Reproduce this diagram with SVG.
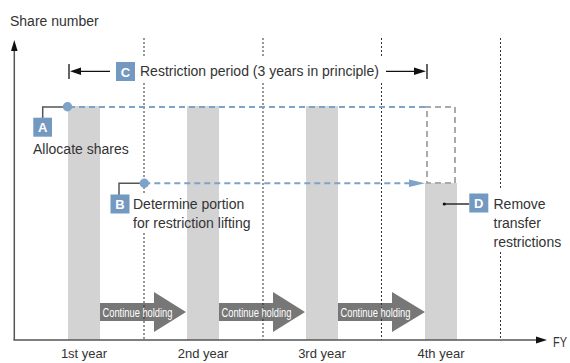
<svg xmlns="http://www.w3.org/2000/svg" width="570" height="363" viewBox="0 0 570 363">
<style>
.t{font-family:"Liberation Sans",Arial,sans-serif;font-size:14px;fill:#333}
.yr{font-family:"Liberation Sans",Arial,sans-serif;font-size:13px;fill:#333;text-anchor:middle}
.bx{fill:#7399c0}
.bl{font-family:"Liberation Sans",Arial,sans-serif;font-size:13px;font-weight:bold;fill:#fff;text-anchor:middle}
.bar{fill:#d3d3d3}
.vd{stroke:#333;stroke-width:1;stroke-dasharray:2 2;fill:none}
.bd{stroke:#7ea3c9;stroke-width:2;stroke-dasharray:6 4;fill:none}
.gd{stroke:#aaa;stroke-width:2;stroke-dasharray:6 4;fill:none}
.ln{stroke:#555;stroke-width:1.5;fill:none}
.blk{stroke:#111;stroke-width:1.3;fill:none}
.ch{fill:#777}
.ct{font-family:"Liberation Sans",Arial,sans-serif;font-size:12.5px;fill:#fff}
</style>
<rect width="570" height="363" fill="#fff"/>
<g id="bars">
<rect class="bar" x="68" y="106" width="32" height="234"/>
<rect class="bar" x="187" y="106" width="32" height="234"/>
<rect class="bar" x="306" y="106" width="32" height="234"/>
<rect class="bar" x="425" y="183" width="32" height="157"/>
</g>
<g id="continue-arrows">
<polygon class="ch" points="100,303 154,303 154,292 186,312 154,332 154,321 100,321"/>
<polygon class="ch" points="219,303 273,303 273,292 305,312 273,332 273,321 219,321"/>
<polygon class="ch" points="338,303 392,303 392,292 425,312 392,332 392,321 338,321"/>
</g>
<g id="gridlines">
<path class="vd" d="M144,38 V57 M144,83 V195 M144,233 V340"/>
<path class="vd" d="M263,38 V57 M263,83 V340"/>
<path class="vd" d="M381.5,38 V57 M381.5,83 V340"/>
<path class="vd" d="M500.5,38 V190 M500.5,252 V340"/>
</g>
<g id="continue-labels">
<text class="ct" x="102.5" y="316.5" textLength="70" lengthAdjust="spacingAndGlyphs">Continue holding</text>
<text class="ct" x="221.5" y="316.5" textLength="70" lengthAdjust="spacingAndGlyphs">Continue holding</text>
<text class="ct" x="340.5" y="316.5" textLength="70" lengthAdjust="spacingAndGlyphs">Continue holding</text>
</g>
<g id="axes">
<line class="ln" x1="14.3" y1="340" x2="14.3" y2="49"/>
<polygon points="14.3,40 11,51 17.6,51" fill="#111"/>
<line class="ln" x1="13.5" y1="340" x2="538" y2="340"/>
<polygon points="547,340 536,336.5 536,343.5" fill="#111"/>
<text class="t" x="10" y="26">Share number</text>
<text class="t" x="553" y="346.5" font-size="13" textLength="14" lengthAdjust="spacingAndGlyphs">FY</text>
<text class="yr" x="84" y="358">1st year</text>
<text class="yr" x="203" y="358">2nd year</text>
<text class="yr" x="322" y="358">3rd year</text>
<text class="yr" x="441" y="358">4th year</text>
</g>
<g id="connectors">
<path class="bd" d="M69,107 H425"/>
<path class="gd" d="M425,107 H455 V183 H427 V107"/>
<path class="bd" d="M144.3,183.3 H412"/>
<polygon points="425,183.3 409,179.5 409,187.1" fill="#7ea3c9"/>
<path class="ln" d="M67,107 H42.7 V118"/>
<path class="ln" d="M144,183.3 H119 V195"/>
<line class="blk" x1="444.3" y1="204" x2="469.3" y2="204"/>
<circle cx="444.3" cy="204" r="1.6" fill="#111"/>
</g>
<g id="C-period">
<line class="blk" x1="69" y1="64" x2="69" y2="79"/>
<line class="blk" x1="75" y1="71.3" x2="110" y2="71.3"/>
<polygon points="70,71.3 81,67.5 81,75.1" fill="#111"/>
<line class="blk" x1="386" y1="71.3" x2="420" y2="71.3"/>
<polygon points="426,71.3 414,67.5 414,75.1" fill="#111"/>
<line class="blk" x1="427" y1="64" x2="427" y2="79"/>
<rect class="bx" x="116" y="62" width="19" height="19"/>
<text class="bl" x="125.5" y="76.5">C</text>
<text class="t" x="140" y="76">Restriction period (3 years in principle)</text>
</g>
<g id="A-allocate">
<circle cx="67.5" cy="106.7" r="4.7" fill="#7ea3c9"/>
<rect class="bx" x="33.3" y="117.7" width="18.7" height="19"/>
<text class="bl" x="42.7" y="132">A</text>
<text class="t" x="33" y="154">Allocate shares</text>
</g>
<g id="B-determine">
<circle cx="144.3" cy="183.3" r="4.7" fill="#7ea3c9"/>
<rect class="bx" x="110.5" y="194.5" width="19" height="19"/>
<text class="bl" x="120" y="209">B</text>
<text class="t" x="133" y="209">Determine portion</text>
<text class="t" x="133" y="228">for restriction lifting</text>
</g>
<g id="D-remove">
<rect class="bx" x="469.3" y="193.5" width="19" height="19"/>
<text class="bl" x="478.8" y="208">D</text>
<text class="t" x="493.5" y="209">Remove</text>
<text class="t" x="493.5" y="228">transfer</text>
<text class="t" x="493.5" y="247">restrictions</text>
</g>
</svg>
